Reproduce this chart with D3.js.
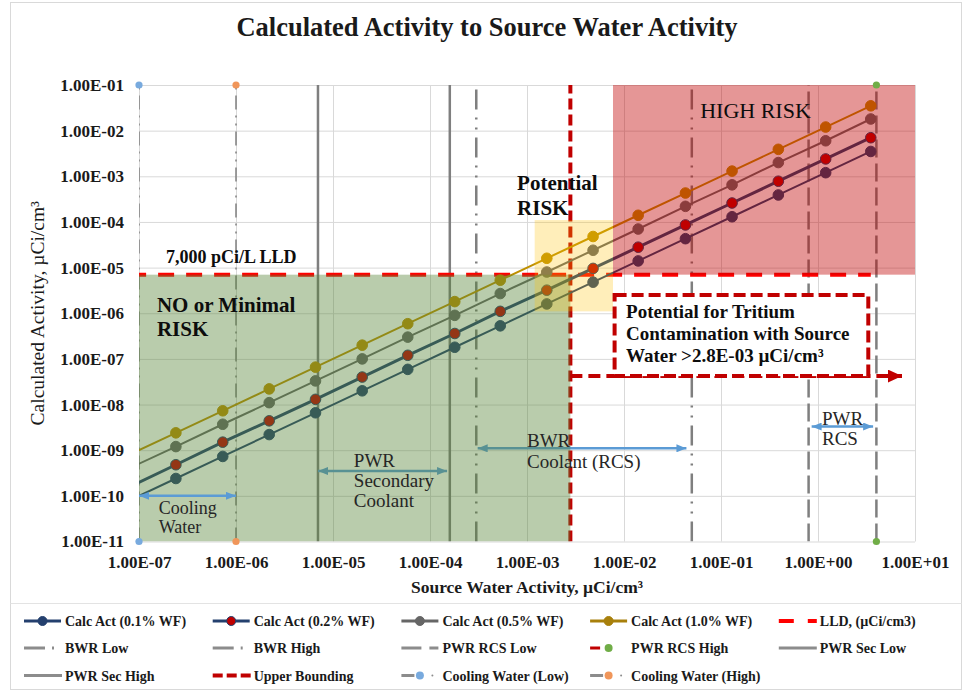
<!DOCTYPE html>
<html>
<head>
<meta charset="utf-8">
<title>Calculated Activity to Source Water Activity</title>
<script src="https://cdn.jsdelivr.net/npm/d3@7/dist/d3.min.js"></script>
<style>
  body { margin: 0; background: #fff; }
  text { font-family: "Liberation Serif", "Times New Roman", serif; fill: #1a1a1a; }
</style>
</head>
<body>
<script>
// values
const sourceWater = [8.1e-8, 2.4e-7, 7.3e-7, 2.2e-6, 6.6e-6, 2.0e-5, 5.9e-5, 1.8e-4, 5.3e-4, 1.6e-3, 4.8e-3, 1.4e-2, 4.3e-2, 1.3e-1, 3.9e-1, 1.2, 3.5];
const calc01 = [8.1e-11, 2.4e-10, 7.3e-10, 2.2e-9, 6.6e-9, 2.0e-8, 5.9e-8, 1.8e-7, 5.3e-7, 1.6e-6, 4.8e-6, 1.4e-5, 4.3e-5, 1.3e-4, 3.9e-4, 1.2e-3, 3.5e-3];
const calc02 = [1.6e-10, 4.8e-10, 1.5e-9, 4.4e-9, 1.3e-8, 4.0e-8, 1.2e-7, 3.6e-7, 1.1e-6, 3.2e-6, 9.6e-6, 2.8e-5, 8.6e-5, 2.6e-4, 7.8e-4, 2.4e-3, 7.0e-3];
const calc05 = [4.1e-10, 1.2e-9, 3.7e-9, 1.1e-8, 3.3e-8, 1.0e-7, 3.0e-7, 9.0e-7, 2.7e-6, 8.0e-6, 2.4e-5, 7.0e-5, 2.2e-4, 6.5e-4, 2.0e-3, 6.0e-3, 1.8e-2];
const calc10 = [8.1e-10, 2.4e-9, 7.3e-9, 2.2e-8, 6.6e-8, 2.0e-7, 5.9e-7, 1.8e-6, 5.3e-6, 1.6e-5, 4.8e-5, 1.4e-4, 4.3e-4, 1.3e-3, 3.9e-3, 1.2e-2, 3.5e-2];

const lld = 7.0e-6;
const upperBound = 2.8e-3;
const upperArrowLevel = 4.2e-8;

const limitNames = ["Cooling Water (Low)", "Cooling Water (High)", "PWR Sec Low", "PWR Sec High", "BWR Low", "BWR High", "PWR RCS Low", "PWR RCS High"];
const limitValues = [1.0e-7, 1.0e-6, 7.0e-6, 1.6e-4, 3.0e-4, 5.0e-2, 0.8, 4.0];
const limitRange = [1e-11, 1e-1];

const xTicks = [1e-7, 1e-6, 1e-5, 1e-4, 1e-3, 1e-2, 1e-1, 1e0, 1e1];
const xTickLabels = ["1.00E-07", "1.00E-06", "1.00E-05", "1.00E-04", "1.00E-03", "1.00E-02", "1.00E-01", "1.00E+00", "1.00E+01"];
const yTicks = [1e-11, 1e-10, 1e-9, 1e-8, 1e-7, 1e-6, 1e-5, 1e-4, 1e-3, 1e-2, 1e-1];
const yTickLabels = ["1.00E-11", "1.00E-10", "1.00E-09", "1.00E-08", "1.00E-07", "1.00E-06", "1.00E-05", "1.00E-04", "1.00E-03", "1.00E-02", "1.00E-01"];

// shaded risk zones
const zoneX0 = [1e-7, 1.2e-3, 7.7e-3];
const zoneX1 = [2.8e-3, 7.7e-3, 1e1];
const zoneY0 = [1e-11, 1.1e-6, 7e-6];
const zoneY1 = [7e-6, 1.1e-4, 1e-1];
const zoneColors = ["#548235", "#ffc000", "#c00000"];

// double arrows: cooling water, PWR secondary, BWR coolant, PWR RCS
const rangeX0 = [1e-7, 7e-6, 3.1e-4, 0.86];
const rangeX1 = [1e-6, 1.5e-4, 4.4e-2, 3.7];
const rangeLevel = [1.0e-10, 3.5e-10, 1.1e-9, 3.3e-9];

// box round the tritium note
const boxX = [8.0e-3, 3.3];
const boxY = [4.2e-8, 2.5e-6];

// annotation texts (first baseline in data units)
const noteLines = [["7,000 pCi/L LLD"], ["NO or Minimal", "RISK"], ["Potential", "RISK"], ["HIGH RISK"],
  ["Potential for Tritium", "Contamination with Source", "Water >2.8E-03 \u00b5Ci/cm\u00b3"],
  ["Cooling", "Water"], ["PWR", "Secondary", "Coolant"], ["BWR", "Coolant (RCS)"], ["PWR", "RCS"]];
const noteX = [1.9e-7, 1.53e-7, 7.9e-4, 6.1e-2, 1.05e-2, 1.6e-7, 1.64e-5, 1.0e-3, 1.1];
const noteY = [1.26e-5, 1.08e-6, 5.0e-4, 1.9e-2, 7.9e-7, 4.0e-11, 4.3e-10, 1.17e-9, 3.6e-9];

const W = 964, H = 693;
const M = { left: 139, right: 915, top: 85, bottom: 541.5 };

const x = d3.scaleLog().domain([1e-7, 1e1]).range([M.left, M.right]);
const y = d3.scaleLog().domain([1e-11, 1e-1]).range([M.bottom, M.top]);

const svg = d3.select("body").append("svg").attr("width", W).attr("height", H);

svg.append("rect").attr("x", 10.5).attr("y", 2.5).attr("width", 951).attr("height", 687)
  .attr("fill", "#fff").attr("stroke", "#d9d9d9");
svg.append("line").attr("x1", 10.5).attr("x2", 961.5).attr("y1", 603.5).attr("y2", 603.5).attr("stroke", "#e3e3e3");

svg.append("text").attr("x", 487).attr("y", 36).attr("text-anchor", "middle")
  .attr("font-size", 26.5).attr("font-weight", "bold")
  .text("Calculated Activity to Source Water Activity");

const defs = svg.append("defs");
defs.append("clipPath").attr("id", "plotClip").append("rect")
  .attr("x", M.left).attr("y", M.top).attr("width", M.right - M.left).attr("height", M.bottom - M.top);
defs.append("marker").attr("id", "headBlue").attr("viewBox", "0 0 10 8").attr("refX", 10).attr("refY", 4)
  .attr("markerWidth", 10).attr("markerHeight", 8).attr("markerUnits", "userSpaceOnUse")
  .attr("orient", "auto-start-reverse")
  .append("path").attr("d", "M0,0L10,4L0,8Z").attr("fill", "#5b9bd5");
defs.append("marker").attr("id", "headRed").attr("viewBox", "0 0 14 13").attr("refX", 14).attr("refY", 6.5)
  .attr("markerWidth", 14).attr("markerHeight", 13).attr("markerUnits", "userSpaceOnUse")
  .attr("orient", "auto")
  .append("path").attr("d", "M0,0L14,6.5L0,13Z").attr("fill", "#c00000");

// gridlines
svg.append("g").attr("transform", `translate(0,${M.bottom})`)
  .call(d3.axisBottom(x).tickValues(xTicks).tickSize(-(M.bottom - M.top)).tickFormat(""))
  .call(g => g.select(".domain").remove())
  .call(g => g.selectAll("line").attr("stroke", "#d9d9d9"));
svg.append("g").attr("transform", `translate(${M.left},0)`)
  .call(d3.axisLeft(y).tickValues(yTicks).tickSize(-(M.right - M.left)).tickFormat(""))
  .call(g => g.select(".domain").remove())
  .call(g => g.selectAll("line").attr("stroke", "#d9d9d9"));

const plot = svg.append("g").attr("clip-path", "url(#plotClip)");

// vertical limit lines
const limitDash = ["14,6,2,6,2,6", "14,6,2,6,2,6", null, null, "20,8,2,8,2,8", "20,8,2,8,2,8", "18,6", "18,6"];
const limitWidth = [1.5, 1.5, 2.5, 2.5, 2.5, 2.5, 2.5, 2.5];
plot.selectAll(".limit").data(limitValues).join("line")
  .attr("class", "limit")
  .attr("x1", d => x(d)).attr("x2", d => x(d))
  .attr("y1", y(limitRange[0])).attr("y2", y(limitRange[1]))
  .attr("stroke", "#7f7f7f")
  .attr("stroke-width", (d, i) => limitWidth[i])
  .attr("stroke-dasharray", (d, i) => limitDash[i]);

// upper bounding vertical
plot.append("line")
  .attr("x1", x(upperBound)).attr("x2", x(upperBound))
  .attr("y1", y(limitRange[0])).attr("y2", y(limitRange[1]))
  .attr("stroke", "#c00000").attr("stroke-width", 4).attr("stroke-dasharray", "11,5");

// LLD
plot.append("line")
  .attr("x1", x(sourceWater[0])).attr("x2", x(sourceWater[sourceWater.length - 1]))
  .attr("y1", y(lld)).attr("y2", y(lld))
  .attr("stroke", "#ff0000").attr("stroke-width", 4).attr("stroke-dasharray", "16,12");

// range arrows lying under the zones
function rangeArrow(g, i) {
  g.append("line")
    .attr("x1", x(rangeX0[i])).attr("x2", x(rangeX1[i]))
    .attr("y1", y(rangeLevel[i])).attr("y2", y(rangeLevel[i]))
    .attr("stroke", "#5b9bd5").attr("stroke-width", 2.5)
    .attr("marker-start", "url(#headBlue)").attr("marker-end", "url(#headBlue)");
}
rangeArrow(plot, 1);
rangeArrow(plot, 2);

// calculated activity series
const calcSeries = [
  { values: calc10, color: "#bf9000", width: 2, fill: "#bf9000" },
  { values: calc05, color: "#666666", width: 2, fill: "#666666" },
  { values: calc02, color: "#24406e", width: 3, fill: "#c00000" },
  { values: calc01, color: "#24406e", width: 2, fill: "#24406e" }
];
const line = d3.line().x((d, i) => x(sourceWater[i])).y(d => y(d));
calcSeries.forEach(s => {
  plot.append("path").attr("d", line(s.values)).attr("fill", "none")
    .attr("stroke", s.color).attr("stroke-width", s.width);
  plot.selectAll(null).data(s.values).join("circle")
    .attr("cx", (d, i) => x(sourceWater[i])).attr("cy", d => y(d)).attr("r", 5.3)
    .attr("fill", s.fill).attr("stroke", s.color).attr("stroke-width", 1);
});

// risk zones
plot.selectAll(".zone").data(zoneColors).join("rect")
  .attr("class", "zone")
  .attr("x", (d, i) => x(zoneX0[i])).attr("width", (d, i) => x(zoneX1[i]) - x(zoneX0[i]))
  .attr("y", (d, i) => y(zoneY1[i])).attr("height", (d, i) => y(zoneY0[i]) - y(zoneY1[i]))
  .attr("fill", d => d).attr("fill-opacity", (d, i) => i === 1 ? 0.27 : 0.41);

// end markers of the limit lines
const endColors = { "Cooling Water (Low)": "#78aade", "Cooling Water (High)": "#f0965a", "PWR RCS High": "#70ad47" };
limitNames.forEach((n, i) => {
  if (!endColors[n]) return;
  limitRange.forEach(v => {
    svg.append("circle").attr("cx", x(limitValues[i])).attr("cy", y(v)).attr("r", 3.6)
      .attr("fill", endColors[n]);
  });
});

// upper bounding arrow and note box
svg.append("line")
  .attr("x1", x(upperBound)).attr("x2", x(1e1) - 13)
  .attr("y1", y(upperArrowLevel)).attr("y2", y(upperArrowLevel))
  .attr("stroke", "#c00000").attr("stroke-width", 4).attr("stroke-dasharray", "12,6");
svg.append("line")
  .attr("x1", x(1e1) - 14).attr("x2", x(1e1) - 13)
  .attr("y1", y(upperArrowLevel)).attr("y2", y(upperArrowLevel))
  .attr("stroke", "#c00000").attr("stroke-width", 4)
  .attr("marker-end", "url(#headRed)");
svg.append("rect")
  .attr("x", x(boxX[0])).attr("width", x(boxX[1]) - x(boxX[0]))
  .attr("y", y(boxY[1])).attr("height", y(boxY[0]) - y(boxY[1]))
  .attr("fill", "#fff").attr("stroke", "#c00000").attr("stroke-width", 4).attr("stroke-dasharray", "12,5");

rangeArrow(svg, 0);
rangeArrow(svg, 3);

// annotation texts
const noteSize = [18, 21, 21, 22, 19, 18, 19, 19, 19];
const noteBold = [true, true, true, false, true, false, false, false, false];
const noteStep = [0, 24, 25, 0, 22, 19, 20, 21, 20];
noteLines.forEach((lines, i) => {
  const t = svg.append("text")
    .attr("font-size", noteSize[i])
    .attr("font-weight", noteBold[i] ? "bold" : "normal")
    .style("fill", noteBold[i] || i === 3 ? "#0d0d0d" : "#262626");
  lines.forEach((s, j) => {
    t.append("tspan").attr("x", x(noteX[i])).attr("y", y(noteY[i]) + j * noteStep[i]).text(s);
  });
});

// axes labels
svg.append("g").attr("transform", `translate(0,${M.bottom})`)
  .call(d3.axisBottom(x).tickValues(xTicks).tickSize(0).tickPadding(14).tickFormat((d, i) => xTickLabels[i]))
  .call(g => g.select(".domain").remove())
  .call(g => g.selectAll("text").attr("font-size", 17).attr("font-weight", "bold")
    .attr("font-family", null).style("fill", "#1a1a1a"));
svg.append("g").attr("transform", `translate(${M.left},0)`)
  .call(d3.axisLeft(y).tickValues(yTicks).tickSize(0).tickPadding(15).tickFormat((d, i) => yTickLabels[i]))
  .call(g => g.select(".domain").remove())
  .call(g => g.selectAll("text").attr("font-size", 17).attr("font-weight", "bold")
    .attr("font-family", null).style("fill", "#1a1a1a"));

svg.append("text").attr("x", 527).attr("y", 593).attr("text-anchor", "middle")
  .attr("font-size", 17.5).attr("font-weight", "bold")
  .text("Source Water Activity, \u00b5Ci/cm\u00b3");
svg.append("text").attr("transform", `translate(44,${(M.top + M.bottom) / 2}) rotate(-90)`)
  .attr("text-anchor", "middle").attr("font-size", 19.5)
  .text("Calculated Activity, \u00b5Ci/cm\u00b3");

// legend
const legendNames = ["Calc Act (0.1% WF)", "Calc Act (0.2% WF)", "Calc Act (0.5% WF)", "Calc Act (1.0% WF)", "LLD, (\u00b5Ci/cm3)",
  "BWR Low", "BWR High", "PWR RCS Low", "PWR RCS High", "PWR Sec Low",
  "PWR Sec High", "Upper Bounding", "Cooling Water (Low)", "Cooling Water (High)"];
const legendStyle = [
  { kind: "calc", color: "#24406e", fill: "#24406e" },
  { kind: "calc", color: "#24406e", fill: "#c00000" },
  { kind: "calc", color: "#666666", fill: "#666666" },
  { kind: "calc", color: "#a8800c", fill: "#a8800c" },
  { kind: "dash", color: "#ff0000", dash: "15,14", width: 4 },
  { kind: "dash", color: "#8c8c8c", dash: "21,7,2,20", width: 3 },
  { kind: "dash", color: "#8c8c8c", dash: "21,7,2,20", width: 3 },
  { kind: "dash", color: "#8c8c8c", dash: "20,8,9", width: 3 },
  { kind: "rcs", color: "#c00000", fill: "#70ad47" },
  { kind: "dash", color: "#8c8c8c", dash: null, width: 3 },
  { kind: "dash", color: "#8c8c8c", dash: null, width: 3 },
  { kind: "dash", color: "#c00000", dash: "10,4", width: 4 },
  { kind: "dot", color: "#8c8c8c", fill: "#78aade" },
  { kind: "dot", color: "#8c8c8c", fill: "#f0965a" }
];
const legendRows = [621, 648, 675.5];
const legend = svg.append("g");
legendNames.forEach((name, i) => {
  const c = i % 5, r = Math.floor(i / 5);
  const sx = 24 + c * 188.7, cy = legendRows[r], st = legendStyle[i];
  const g = legend.append("g");
  if (st.kind === "calc") {
    g.append("line").attr("x1", sx).attr("x2", sx + 37).attr("y1", cy).attr("y2", cy)
      .attr("stroke", st.color).attr("stroke-width", 3);
    g.append("circle").attr("cx", sx + 18.5).attr("cy", cy).attr("r", 4.5)
      .attr("fill", st.fill).attr("stroke", st.color).attr("stroke-width", 1);
  } else if (st.kind === "dash") {
    g.append("line").attr("x1", sx).attr("x2", sx + 38).attr("y1", cy).attr("y2", cy)
      .attr("stroke", st.color).attr("stroke-width", st.width).attr("stroke-dasharray", st.dash);
  } else if (st.kind === "rcs") {
    g.append("line").attr("x1", sx).attr("x2", sx + 30).attr("y1", cy).attr("y2", cy)
      .attr("stroke", st.color).attr("stroke-width", 3).attr("stroke-dasharray", "10,20");
    g.append("circle").attr("cx", sx + 18.5).attr("cy", cy).attr("r", 4).attr("fill", st.fill);
  } else {
    g.append("line").attr("x1", sx).attr("x2", sx + 13).attr("y1", cy).attr("y2", cy)
      .attr("stroke", st.color).attr("stroke-width", 3);
    g.append("circle").attr("cx", sx + 18.5).attr("cy", cy).attr("r", 4).attr("fill", st.fill);
    g.append("circle").attr("cx", sx + 31).attr("cy", cy).attr("r", 1).attr("fill", st.color);
  }
  g.append("text").attr("x", 65 + c * 188.7).attr("y", cy + 5)
    .attr("font-size", 14).attr("font-weight", "bold").text(name);
});
</script>
</body>
</html>
